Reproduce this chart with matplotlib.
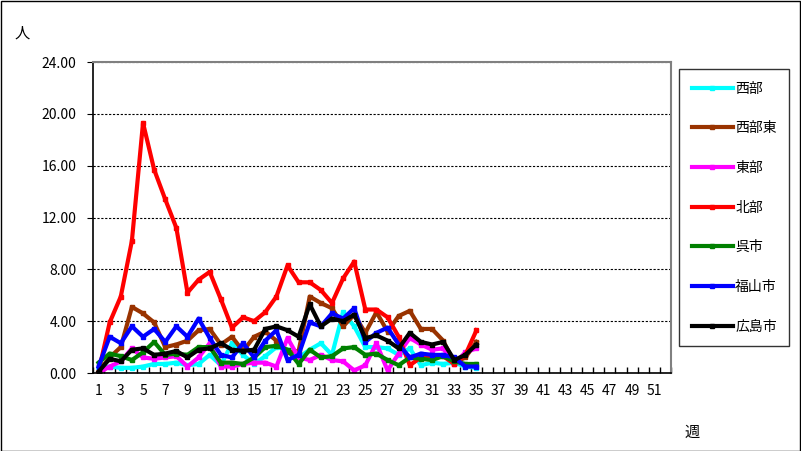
import matplotlib.pyplot as plt
import numpy as np

plt.rcParams['font.family'] = ['Noto Sans CJK JP', 'DejaVu Sans']

# weekly counts (weeks 1-35 observed, 52-week axis)
weeks = list(range(1, 36))
seibu = [0.3, 0.5, 0.4, 0.4, 0.5, 0.7, 0.7, 0.8, 0.6, 0.7, 1.4, 0.6, 2.3, 1.4, 0.7, 1.3, 2.0, 1.8,
         1.2, 1.8, 2.3, 1.4, 4.7, 3.6, 2.0, 2.0, 1.9, 1.4, 1.9, 0.6, 0.8, 0.7, 0.8, 0.5, 0.4]
seibu_higashi = [0.1, 1.2, 2.0, 5.1, 4.6, 3.9, 2.0, 2.2, 2.5, 3.3, 3.4, 2.2, 2.8, 1.7, 2.8, 3.2, 2.5, 1.6,
                 1.7, 5.9, 5.4, 5.0, 3.6, 4.5, 3.1, 4.7, 3.2, 4.4, 4.8, 3.4, 3.4, 2.5, 0.8, 1.2, 2.4]
toubu = [0.0, 0.5, 0.9, 1.9, 1.2, 1.1, 1.2, 1.3, 0.5, 1.2, 2.3, 0.5, 0.5, 0.7, 0.8, 0.8, 0.5, 2.7,
         1.2, 1.0, 1.4, 1.0, 0.9, 0.2, 0.6, 2.3, 0.2, 1.5, 2.7, 2.2, 1.8, 1.9, 0.7, 1.6, 1.9]
hokubu = [0.1, 3.9, 5.9, 10.2, 19.3, 15.7, 13.4, 11.2, 6.2, 7.2, 7.8, 5.7, 3.5, 4.3, 4.0, 4.7, 5.9, 8.3,
          7.0, 7.0, 6.4, 5.4, 7.3, 8.6, 4.9, 4.9, 4.3, 2.8, 0.6, 1.2, 1.2, 1.3, 0.7, 1.4, 3.3]
kure = [0.8, 1.5, 1.3, 1.0, 1.6, 2.4, 1.4, 1.5, 1.4, 2.0, 2.0, 0.8, 0.8, 0.7, 1.2, 2.0, 2.1, 1.8,
        0.7, 1.8, 1.2, 1.3, 1.9, 2.0, 1.4, 1.5, 1.0, 0.6, 1.2, 1.1, 1.0, 1.3, 0.9, 0.7, 0.7]
fukuyama = [0.5, 2.8, 2.3, 3.6, 2.8, 3.4, 2.4, 3.6, 2.8, 4.2, 2.7, 1.4, 1.2, 2.3, 1.2, 2.5, 3.3, 1.0,
            1.4, 3.9, 3.6, 4.6, 4.2, 5.0, 2.4, 3.1, 3.5, 2.2, 1.2, 1.5, 1.4, 1.4, 1.2, 0.5, 0.5]
hiroshima = [0.1, 1.1, 0.9, 1.8, 1.9, 1.4, 1.5, 1.7, 1.2, 1.8, 1.9, 2.3, 1.8, 1.7, 1.8, 3.4, 3.6, 3.3,
             2.8, 5.3, 3.6, 4.2, 4.0, 4.5, 2.7, 2.9, 2.5, 1.9, 3.1, 2.4, 2.2, 2.4, 1.0, 1.4, 2.2]

series = [('西部', seibu, '#00FFFF'),
          ('西部東', seibu_higashi, '#993300'),
          ('東部', toubu, '#FF00FF'),
          ('北部', hokubu, '#FF0000'),
          ('呉市', kure, '#008000'),
          ('福山市', fukuyama, '#0000FF'),
          ('広島市', hiroshima, '#000000')]

fig = plt.figure(figsize=(8.01, 4.51), dpi=100)
fig.patches.append(plt.Rectangle((0.001, 0.001), 0.998, 0.997, transform=fig.transFigure,
                                 fill=False, edgecolor='black', linewidth=1))
ax = fig.add_axes([0.1161, 0.1729, 0.7216, 0.6896])

for name, vals, col in series:
    ax.plot(weeks, vals, color=col, linewidth=3, marker='s', markersize=3.5, label=name)

ax.set_xlim(0.5, 52.5)
ax.set_ylim(0, 24)
ax.set_yticks(np.arange(0, 25, 4))
ax.set_yticklabels([f'{v:.2f}' for v in np.arange(0, 25, 4)], fontsize=10)
ax.set_xticks(range(1, 53, 2))
ax.set_xticklabels([str(w) for w in range(1, 53, 2)], fontsize=10)
ax.tick_params(axis='x', which='major', length=0, pad=8)
ax.set_xticks(np.arange(0.5, 53, 1), minor=True)
ax.tick_params(axis='x', which='minor', length=4, direction='in', width=1)
ax.tick_params(axis='y', length=4, direction='out', pad=8)
ax.yaxis.grid(True, linestyle=(0, (2, 1.5)), color='black', linewidth=0.8)

for s in ['top', 'right']:
    ax.spines[s].set_color('#808080')
    ax.spines[s].set_linewidth(1.5)
ax.spines['left'].set_linewidth(1.2)
ax.spines['bottom'].set_linewidth(1.2)

fig.text(22 / 801, 1 - 33 / 451, '人', fontsize=11, ha='center', va='center')
fig.text(692 / 801, 1 - 432 / 451, '週', fontsize=11, ha='center', va='center')

leg = ax.legend(loc='upper left', bbox_to_anchor=(679 / 801, 1 - 69 / 451), bbox_transform=fig.transFigure,
                fontsize=10, frameon=True, fancybox=False, edgecolor='black', labelspacing=1.85,
                handlelength=3.0, handletextpad=0.15, borderpad=0.9, borderaxespad=0)
leg.get_frame().set_linewidth(1)

fig.savefig('out.png', dpi=100)
